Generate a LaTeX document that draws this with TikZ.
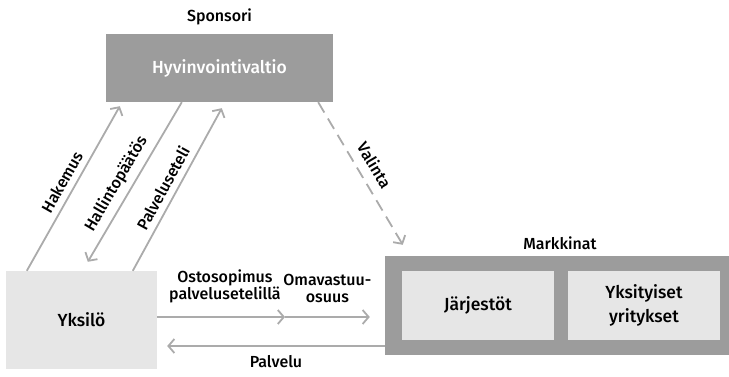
\documentclass[tikz,border=0pt]{standalone}
\usepackage{fontspec}
\setmainfont{Fira Sans Medium}
\usepackage{xcolor}
\usetikzlibrary{calc}
\usetikzlibrary{arrows.meta}
\definecolor{tumma}{HTML}{9C9C9C}
\definecolor{vaalea}{HTML}{E6E6E6}
\definecolor{viiva}{HTML}{ABABAB}
\tikzset{
  laatikko/.style={rectangle, inner sep=0pt, align=center, font=\fontsize{17.5}{24}\selectfont},
  nuoli/.style={draw=viiva, line width=1.8pt, -{Straight Barb[length=6pt, width=14pt, line width=1.8pt]}},
  teksti/.style={font=\fontsize{16}{17}\selectfont, align=center, inner sep=1pt}
}

\begin{document}
\begin{tikzpicture}[x=1pt, y=1pt]
        \useasboundingbox (0,0) rectangle (729,376);
        %LAATIKOT
        \node[laatikko, fill=tumma, text=white, minimum width=227pt, minimum height=68pt] (valtio) at (219.5,308) {Hyvinvointivaltio};
        \node[teksti] (sponsori) at (219.5,359) {Sponsori};
        \node[laatikko, fill=vaalea, minimum width=151pt, minimum height=98pt] (yksilo) at (81.5,56) {Yksilö};
        \node[laatikko, fill=tumma, minimum width=344pt, minimum height=99pt] (markkinat) at (557,70.5) {};
        \node[laatikko, fill=vaalea, minimum width=152pt, minimum height=69pt] (jarjestot) at (478,70.5) {Järjestöt};
        \node[laatikko, fill=vaalea, minimum width=152pt, minimum height=69pt] (yritykset) at (644,70.5) {Yksityiset\\yritykset};
        \node[teksti] (markkinatnimi) at (560,133) {Markkinat};
        %NUOLET YLOS JA ALAS
        \draw[nuoli] ([xshift=21pt]yksilo.north west) -- node[midway, sloped, above=5pt, teksti]{Hakemus} ([xshift=14pt, yshift=-4pt]valtio.south west);
        \draw[nuoli] ([xshift=76pt]valtio.south west) -- node[pos=0.56, sloped, above=5pt, teksti]{Hallintopäätös} ([xshift=82pt, yshift=9pt]yksilo.north west);
        \draw[nuoli] ([xshift=127pt]yksilo.north west) -- node[pos=0.47, sloped, above=5pt, teksti]{Palveluseteli} ([xshift=116pt, yshift=-6pt]valtio.south west);
        %VALINTA
        \draw[nuoli, dash pattern=on 12pt off 7pt] ([xshift=-15pt]valtio.south east) -- node[midway, sloped, above=8pt, teksti]{Valinta} ([xshift=18pt, yshift=11pt]markkinat.north west);
        %VAAKA NUOLET
        \coordinate (valikarki) at (285,59);
        \draw[nuoli] (yksilo.east |- valikarki) -- node[pos=0.53, above=12pt, teksti]{Ostosopimus\\palvelusetelillä} (valikarki);
        \draw[nuoli] (valikarki) -- node[midway, above=12pt, teksti]{Omavastuu-\\osuus} ([xshift=-15pt]markkinat.west |- valikarki);
        \draw[nuoli] ([yshift=-40.5pt]markkinat.west) -- node[midway, below=8pt, teksti]{Palvelu} ([xshift=10pt, yshift=-26pt]yksilo.east);
    \end{tikzpicture}
\end{document}
